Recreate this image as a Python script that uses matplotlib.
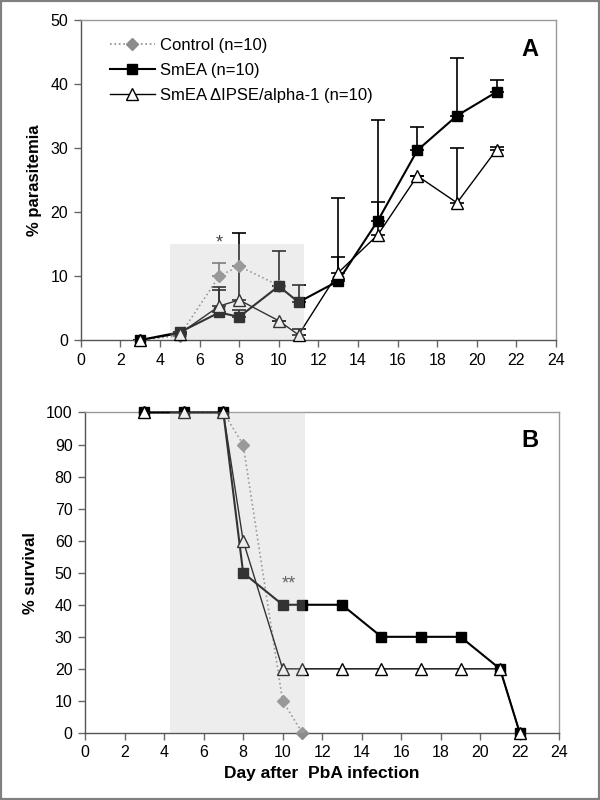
import numpy as np
import matplotlib
matplotlib.use('Agg')
import matplotlib.pyplot as plt
from matplotlib.patches import Rectangle

plt.rcParams['font.family'] = ['Liberation Sans', 'DejaVu Sans']

# parasitemia (panel A)
days_ctrl_a = [3, 5, 7, 8, 10]
ctrl_a = [0, 0.7, 10.0, 11.5, 8.5]
ctrl_a_err = [0, 0, 2.0, 0, 0]

days_a = [3, 5, 7, 8, 10, 11, 13, 15, 17, 19, 21]
smea_a = [0, 1.2, 4.3, 3.6, 8.4, 5.9, 9.2, 18.6, 29.6, 35.0, 38.7]
smea_a_err = [0, 0, 3.5, 1.1, 5.5, 2.7, 13.0, 15.8, 3.7, 9.0, 1.9]
ipse_a = [0, 1.0, 5.3, 6.25, 3.0, 0.8, 10.5, 16.4, 25.6, 21.4, 29.7]
ipse_a_err = [0, 0, 2.9, 10.4, 0, 0.9, 2.5, 5.1, 0, 8.6, 0.4]

# survival (panel B)
days_ctrl_b = [3, 5, 7, 8, 10, 11]
ctrl_b = [100, 100, 100, 90, 10, 0]
days_b = [3, 5, 7, 8, 10, 11, 13, 15, 17, 19, 21, 22]
smea_b = [100, 100, 100, 50, 40, 40, 40, 30, 30, 30, 20, 0]
ipse_b = [100, 100, 100, 60, 20, 20, 20, 20, 20, 20, 20, 0]

labels = ['Control (n=10)', 'SmEA (n=10)', 'SmEA \u0394IPSE/alpha-1 (n=10)']
gray = '#8c8c8c'

fig = plt.figure(figsize=(6, 8), dpi=100)
ax1 = fig.add_axes([0.1345, 0.575, 0.7922, 0.4006])
ax2 = fig.add_axes([0.1417, 0.0838, 0.7905, 0.4006])


def style(ax, ymax, ystep):
    ax.set_xlim(0, 24)
    ax.set_ylim(0, ymax)
    ax.set_xticks(np.arange(0, 25, 2))
    ax.set_yticks(np.arange(0, ymax + 1, ystep))
    ax.tick_params(axis='both', direction='out', length=5, width=1, color='#666666',
                   labelsize=11.5, pad=4)
    ax.spines['left'].set_color('#555555')
    ax.spines['bottom'].set_color('#555555')
    ax.spines['top'].set_color('#999999')
    ax.spines['right'].set_color('#999999')
    for s in ax.spines.values():
        s.set_linewidth(1)


def upbars(ax, x, y, err, color):
    yerr = [np.zeros(len(err)), np.array(err)]
    ax.errorbar(x, y, yerr=yerr, fmt='none', ecolor=color, elinewidth=1.2,
                capsize=5, capthick=1.2, zorder=2)


# panel A
style(ax1, 50, 10)
upbars(ax1, days_ctrl_a, ctrl_a, ctrl_a_err, '#666666')
upbars(ax1, days_a, smea_a, smea_a_err, 'black')
upbars(ax1, days_a, ipse_a, ipse_a_err, 'black')
ax1.plot(days_ctrl_a, ctrl_a, ls=':', color=gray, lw=1.2, marker='D', ms=6.5,
         mfc=gray, mec=gray, label=labels[0], zorder=3)
ax1.plot(days_a, smea_a, ls='-', color='black', lw=1.5, marker='s', ms=7,
         mfc='black', mec='black', label=labels[1], zorder=4)
ax1.plot(days_a, ipse_a, ls='-', color='black', lw=1, marker='^', ms=9,
         mfc='white', mec='black', mew=1, label=labels[2], zorder=5)
ax1.add_patch(Rectangle((4.5, 0), 6.8, 15, facecolor='#bfbfbf', alpha=0.27,
                        edgecolor='none', zorder=6))
ax1.text(7, 15.1, '*', ha='center', va='center', fontsize=13, color='#444444')
ax1.text(22.7, 45.4, 'A', ha='center', va='center', fontsize=17, fontweight='bold')
ax1.set_ylabel('% parasitemia', fontsize=12, fontweight='bold', labelpad=6)
ax1.legend(loc='upper left', bbox_to_anchor=(0.03, 0.99), frameon=False, fontsize=12,
           handlelength=2.7, labelspacing=0.6, handletextpad=0.3)

# panel B
style(ax2, 100, 10)
ax2.plot(days_ctrl_b, ctrl_b, ls=':', color=gray, lw=1.2, marker='D', ms=6.5,
         mfc=gray, mec=gray, zorder=3)
ax2.plot(days_b, smea_b, ls='-', color='black', lw=1.5, marker='s', ms=7,
         mfc='black', mec='black', zorder=4)
ax2.plot(days_b, ipse_b, ls='-', color='black', lw=1, marker='^', ms=9,
         mfc='white', mec='black', mew=1, zorder=5)
ax2.add_patch(Rectangle((4.3, 0), 6.85, 100, facecolor='#bfbfbf', alpha=0.27,
                        edgecolor='none', zorder=6))
ax2.text(10.3, 46.5, '**', ha='center', va='center', fontsize=13, color='#444444')
ax2.text(22.5, 91.3, 'B', ha='center', va='center', fontsize=17, fontweight='bold')
ax2.set_ylabel('% survival', fontsize=12, fontweight='bold', labelpad=6)
ax2.set_xlabel('Day after  PbA infection', fontsize=12.5, fontweight='bold', labelpad=4)

for ax in (ax1, ax2):
    for m in ax.lines:
        m.set_clip_on(False)

fig.patches.append(Rectangle((0, 0), 1, 1, transform=fig.transFigure, fill=False,
                             edgecolor='#808080', lw=3))

plt.savefig('out.png', dpi=100)
